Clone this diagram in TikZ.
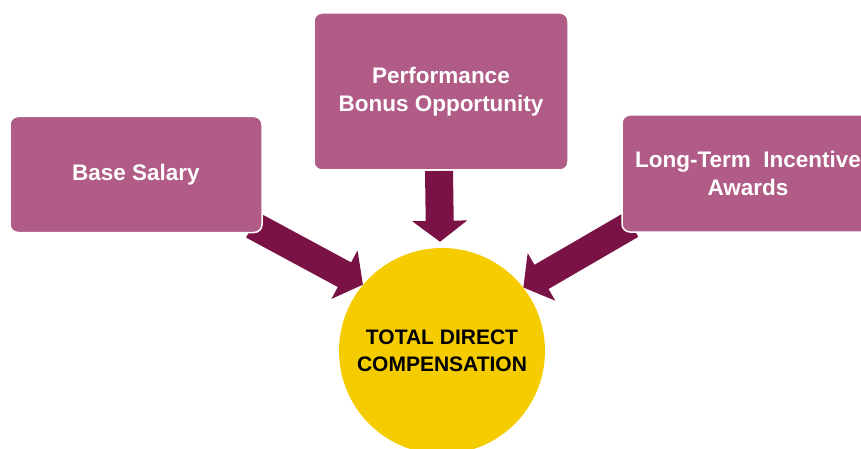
\documentclass[tikz,border=0pt]{standalone}
\usepackage{fontspec}
\setmainfont{Liberation Sans}
\usetikzlibrary{arrows.meta}
\definecolor{boxc}{RGB}{176,92,134}
\definecolor{arrc}{RGB}{122,18,70}
\definecolor{circc}{RGB}{245,204,0}
\pgfdeclarelayer{bg}
\pgfsetlayers{bg,main}
\begin{document}
\begin{tikzpicture}[x=1pt,y=-1pt,
  box/.style={fill=boxc, draw=white, line width=1.5pt, rounded corners=8pt,
    text=white, font=\bfseries\fontsize{22.5}{28}\selectfont, align=center,
    inner sep=0pt, minimum width=252pt},
  fat/.style={draw=arrc, line width=28pt,
    -{Triangle[length=21pt 0, width=54pt 0]}},
  hub/.style={circle, fill=circc, minimum size=206pt, inner sep=0pt,
    text=black, font=\bfseries\fontsize{21}{27}\selectfont, align=center}]
\useasboundingbox (0,0) rectangle (861,449);
\node[box, minimum height=116pt] (base) at (136,174.5) {Base Salary};
\node[box, minimum width=254pt, minimum height=157pt] (perf) at (441,91.5)
  {Performance\\Bonus Opportunity};
\node[box, minimum height=117pt] (lt) at (748,173.5)
  {Long-Term\ \ Incentive\\Awards};
\node[hub] (tdc) at (442,351) {TOTAL DIRECT\\COMPENSATION};
\begin{pgfonlayer}{bg}
\draw[fat] ([shift={(-10pt,8pt)}]base.south east) -- (tdc.140);
\draw[fat] ([xshift=-2pt]perf.south) -- ([shift={(-2pt,6pt)}]tdc.north);
\draw[fat] ([shift={(10pt,8pt)}]lt.south west) -- (tdc.38);
\end{pgfonlayer}
\end{tikzpicture}
\end{document}
